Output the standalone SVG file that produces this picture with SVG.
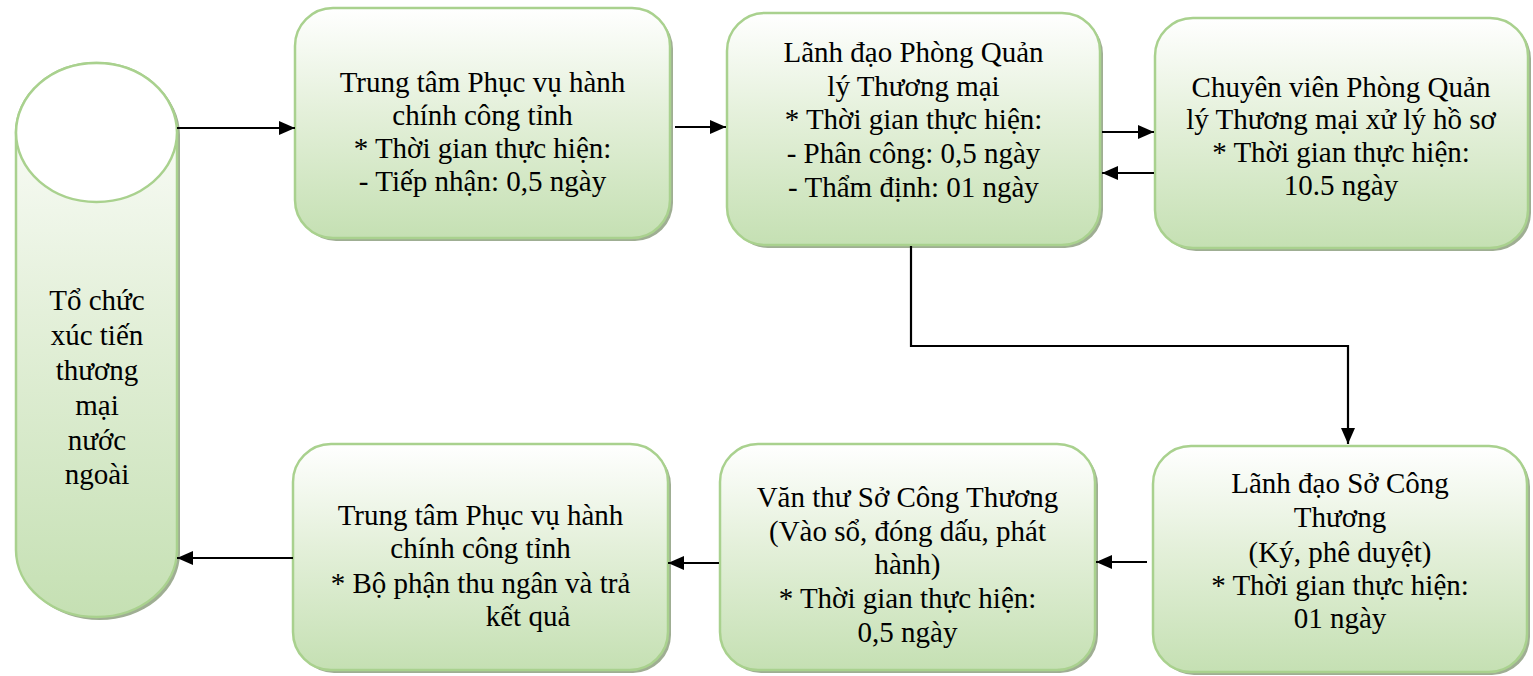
<svg xmlns="http://www.w3.org/2000/svg" width="1533" height="676" viewBox="0 0 1533 676">
<defs>
  <linearGradient id="g" x1="0" y1="0" x2="0" y2="1">
    <stop offset="0" stop-color="#ffffff"/>
    <stop offset="0.45" stop-color="#e4f0da"/>
    <stop offset="1" stop-color="#c5e0b3"/>
  </linearGradient>
  <marker id="arr" viewBox="0 0 16 14" refX="16" refY="7" markerWidth="16" markerHeight="14" markerUnits="userSpaceOnUse" orient="auto">
    <path d="M0,0 L16,7 L0,14 Z" fill="#000"/>
  </marker>
  <style>
    .box{fill:url(#g);stroke:#a9d18e;stroke-width:2.5}
    .sh{fill:#9fae93}
    .t{font-size:29px;fill:#000;text-anchor:middle}
    .c{fill:none;stroke:#000;stroke-width:2.2}
  </style>
</defs>

<g id="n0">
  <path class="sh" d="M19,135 A80.5,69.5 0 0 1 180,135 L180,553 A80.5,67 0 0 1 19,553 Z"/>
  <path class="box" d="M16,132.5 A80.5,69.5 0 0 1 177,132.5 L177,550 A80.5,67 0 0 1 16,550 Z"/>
  <ellipse cx="96.5" cy="132.5" rx="80.5" ry="69.5" fill="#fff" stroke="#a9d18e" stroke-width="2.5"/>
  <text class="t" font-family="Liberation Serif, DejaVu Serif, serif"><tspan x="97" y="310">Tổ chức</tspan><tspan x="97" y="345">xúc tiến</tspan><tspan x="97" y="380">thương</tspan><tspan x="97" y="415">mại</tspan><tspan x="97" y="450">nước</tspan><tspan x="97" y="484">ngoài</tspan></text>
</g>

<g id="n1">
  <rect class="sh" x="298" y="11" width="375" height="230" rx="38"/>
  <rect class="box" x="295" y="8" width="375" height="230" rx="38"/>
  <text class="t" font-family="Liberation Serif, DejaVu Serif, serif"><tspan x="482.5" y="92">Trung tâm Phục vụ hành</tspan><tspan x="482.5" y="125">chính công tỉnh</tspan><tspan x="482.5" y="158">* Thời gian thực hiện:</tspan><tspan x="482.5" y="191">- Tiếp nhận: 0,5 ngày</tspan></text>
</g>

<g id="n2">
  <rect class="sh" x="730" y="16" width="373" height="232" rx="38"/>
  <rect class="box" x="727" y="13" width="373" height="232" rx="38"/>
  <text class="t" font-family="Liberation Serif, DejaVu Serif, serif"><tspan x="913.5" y="62">Lãnh đạo Phòng Quản</tspan><tspan x="913.5" y="96">lý Thương mại</tspan><tspan x="913.5" y="129">* Thời gian thực hiện:</tspan><tspan x="913.5" y="163">- Phân công: 0,5 ngày</tspan><tspan x="913.5" y="197">- Thẩm định: 01 ngày</tspan></text>
</g>

<g id="n3">
  <rect class="sh" x="1158" y="21" width="373" height="230" rx="38"/>
  <rect class="box" x="1155" y="18" width="373" height="230" rx="38"/>
  <text class="t" font-family="Liberation Serif, DejaVu Serif, serif"><tspan x="1341" y="97">Chuyên viên Phòng Quản</tspan><tspan x="1341" y="129">lý Thương mại xử lý hồ sơ</tspan><tspan x="1341" y="162">* Thời gian thực hiện:</tspan><tspan x="1341" y="195">10.5 ngày</tspan></text>
</g>

<g id="n4">
  <rect class="sh" x="1156" y="449" width="374" height="226" rx="38"/>
  <rect class="box" x="1153" y="446" width="374" height="226" rx="38"/>
  <text class="t" font-family="Liberation Serif, DejaVu Serif, serif"><tspan x="1340" y="493">Lãnh đạo Sở Công</tspan><tspan x="1340" y="527">Thương</tspan><tspan x="1340" y="562">(Ký, phê duyệt)</tspan><tspan x="1340" y="595">* Thời gian thực hiện:</tspan><tspan x="1340" y="628">01 ngày</tspan></text>
</g>

<g id="n5">
  <rect class="sh" x="723" y="447" width="375" height="226" rx="38"/>
  <rect class="box" x="720" y="444" width="375" height="226" rx="38"/>
  <text class="t" font-family="Liberation Serif, DejaVu Serif, serif"><tspan x="907.5" y="507">Văn thư Sở Công Thương</tspan><tspan x="907.5" y="541">(Vào sổ, đóng dấu, phát</tspan><tspan x="907.5" y="574">hành)</tspan><tspan x="907.5" y="608">* Thời gian thực hiện:</tspan><tspan x="907.5" y="642">0,5 ngày</tspan></text>
</g>

<g id="n6">
  <rect class="sh" x="296" y="447" width="375" height="226" rx="38"/>
  <rect class="box" x="293" y="444" width="375" height="226" rx="38"/>
  <text class="t" font-family="Liberation Serif, DejaVu Serif, serif"><tspan x="480.5" y="525">Trung tâm Phục vụ hành</tspan><tspan x="480.5" y="558">chính công tỉnh</tspan><tspan x="480.5" y="593">* Bộ phận thu ngân và trả</tspan><tspan x="528" y="626">kết quả</tspan></text>
</g>

<g id="connectors">
  <line class="c" x1="177" y1="128" x2="295" y2="128" marker-end="url(#arr)"/>
  <line class="c" x1="675" y1="127" x2="726" y2="127" marker-end="url(#arr)"/>
  <line class="c" x1="1102" y1="132" x2="1154" y2="132" marker-end="url(#arr)"/>
  <line class="c" x1="1154" y1="173" x2="1102" y2="173" marker-end="url(#arr)"/>
  <polyline class="c" points="911,246 911,346 1348,346 1348,444" marker-end="url(#arr)"/>
  <line class="c" x1="1147" y1="562" x2="1096" y2="562" marker-end="url(#arr)"/>
  <line class="c" x1="719" y1="563" x2="668" y2="563" marker-end="url(#arr)"/>
  <line class="c" x1="293" y1="558" x2="177" y2="558" marker-end="url(#arr)"/>
</g>
</svg>
